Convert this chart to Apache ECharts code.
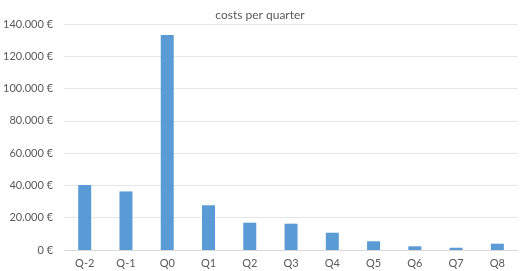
<!DOCTYPE html>
<html>
<head>
<meta charset="utf-8">
<script src="https://cdn.jsdelivr.net/npm/echarts@6/dist/echarts.min.js"></script>
<style>html,body{margin:0;padding:0;background:#fff}#c{width:520px;height:271px}</style>
</head>
<body>
<div id="c"></div>
<script>
var categories = ['Q-2','Q-1','Q0','Q1','Q2','Q3','Q4','Q5','Q6','Q7','Q8'];
var costs = [40300, 36300, 133200, 27700, 16900, 16300, 10700, 5400, 2300, 1400, 3900];
var yTicks = [0, 20000, 40000, 60000, 80000, 100000, 120000, 140000];

function fmt(v){
  return String(v).replace(/\B(?=(\d{3})+(?!\d))/g, '.') + ' €';
}
var FONT = 'Lato, sans-serif';
var chart = echarts.init(document.getElementById('c'), null, {renderer:'canvas'});
chart.setOption({
  animation:false,
  textStyle:{fontFamily:FONT},
  title:{text:'costs per quarter', left:'center', top:4,
    textStyle:{fontSize:12, fontWeight:'normal', color:'#595959', fontFamily:FONT}},
  grid:{left:57, right:2, top:24, bottom:21},
  xAxis:{type:'category', data:categories,
    axisLine:{lineStyle:{color:'#d9d9d9'}}, axisTick:{show:false},
    axisLabel:{color:'#595959', fontSize:11, margin:8, fontFamily:FONT}},
  yAxis:{type:'value', min:yTicks[0], max:yTicks[yTicks.length-1], interval:20000,
    axisLine:{show:false}, axisTick:{show:false},
    splitLine:{lineStyle:{color:'#e6e6e6'}},
    axisLabel:{color:'#595959', fontSize:11, margin:11, fontFamily:FONT, formatter:fmt}},
  series:[{type:'bar', data:costs, barWidth:13, itemStyle:{color:'#5b9bd5'}}]
});
</script>
</body>
</html>
